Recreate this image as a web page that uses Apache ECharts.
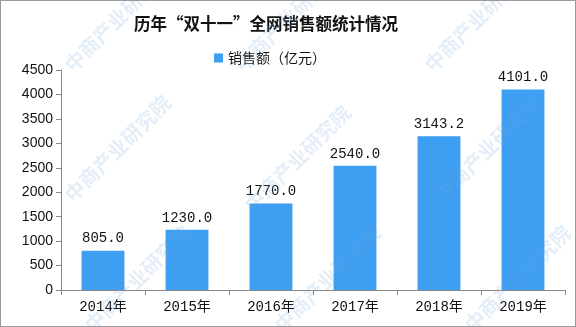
<!DOCTYPE html>
<html><head><meta charset="utf-8">
<script src="https://cdn.jsdelivr.net/npm/echarts@6/dist/echarts.min.js"></script>
<style>html,body{margin:0;padding:0;background:#fff}#c{width:576px;height:327px;box-sizing:border-box;border:1px solid #9a9a9a}</style>
</head><body><div id="c"></div>
<script>
var categories = ['2014年','2015年','2016年','2017年','2018年','2019年'];
var sales = [805.0, 1230.0, 1770.0, 2540.0, 3143.2, 4101.0];
var seriesName = '销售额（亿元）';
var titleText = '历年“双十一”全网销售额统计情况';

var chart = echarts.init(document.getElementById('c'));
var wm = [];
var wmPos = [[60,60],[230,60],[420,60],[60,190],[240,200],[430,190],[80,320],[270,320],[460,320]];
wmPos.forEach(function(p){
  wm.push({type:'text', x:p[0], y:p[1], rotation:Math.PI/4, z:100,
    style:{text:'中商产业研究院', fill:'rgba(120,170,220,0.2)', font:'bold 20px "Noto Sans CJK SC"'}});
});
chart.setOption({
  animation:false,
  title:{text:titleText, left:128, top:9,
    textStyle:{fontSize:16.5, fontWeight:'bold', color:'#111', fontFamily:'"Noto Sans CJK SC"'}},
  legend:{top:45, left:208, itemWidth:9, itemHeight:9, itemGap:3,
    textStyle:{fontSize:14, color:'#111', fontFamily:'"Noto Sans CJK SC"'},
    data:[{name:seriesName, icon:'rect'}]},
  graphic: wm,
  grid:{left:60, right:10, top:69, bottom:36, containLabel:false},
  xAxis:{type:'category', data:categories,
    axisLine:{lineStyle:{color:'#888'}},
    axisTick:{show:true, alignWithLabel:false, length:5, lineStyle:{color:'#888'}},
    axisLabel:{color:'#111', fontSize:14, margin:10, fontFamily:'"Liberation Mono","Noto Sans CJK SC"'}},
  yAxis:{type:'value', min:0, max:4500, interval:500,
    axisLine:{show:true, lineStyle:{color:'#888'}},
    axisTick:{show:true, length:5, lineStyle:{color:'#888'}},
    splitLine:{show:false},
    axisLabel:{color:'#111', fontSize:14, margin:8, fontFamily:'"Liberation Sans"',
      formatter:function(v){return String(v);}}},
  series:[{name:seriesName, type:'bar', data:sales, barWidth:'51%',
    itemStyle:{color:'#3d9ef2'},
    label:{show:true, position:'top', distance:5, color:'#111', fontSize:14,
      fontFamily:'"Liberation Mono"', formatter:function(p){return p.value.toFixed(1);}}}]
});
</script></body></html>
